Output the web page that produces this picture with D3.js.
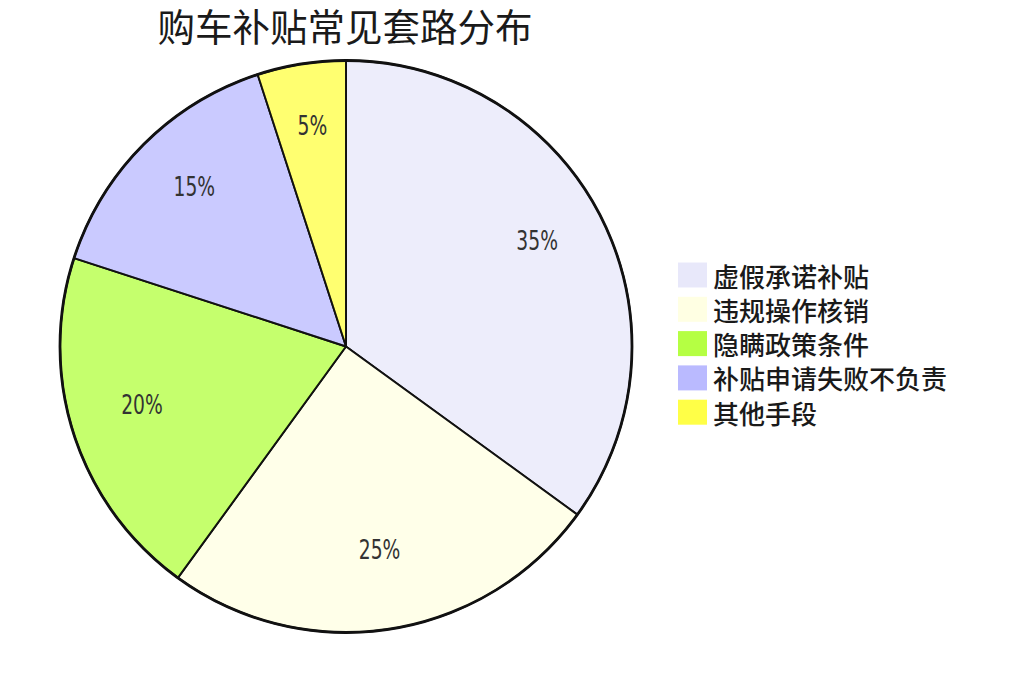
<!DOCTYPE html>
<html>
<head>
<meta charset="utf-8">
<script src="https://cdn.jsdelivr.net/npm/d3@7"></script>
<style>
  body { margin: 0; background: #fff; }
  svg { display: block; }
</style>
</head>
<body>
<svg id="chart" width="1024" height="693"></svg>
<script>
// chart data
const categories = ["虚假承诺补贴", "违规操作核销", "隐瞒政策条件", "补贴申请失败不负责", "其他手段"];
const shares = [35, 25, 20, 15, 5];
const sliceColors = ["#e6e6fa", "#ffffe0", "#adff2f", "#b3b3ff", "#ffff33"];
const chartTitle = "购车补贴常见套路分布";

const width = 1024, height = 693;
const cx = 346, cy = 346.5, radius = 286;

const svg = d3.select("#chart");

// title
svg.append("text")
    .attr("x", 345)
    .attr("y", 41)
    .attr("text-anchor", "middle")
    .style("font-family", "'Noto Sans CJK SC'")
    .style("font-size", "37.5px")
    .style("fill", "#1a1a1a")
    .text(chartTitle);

let color = d3.scaleOrdinal().domain(categories).range(sliceColors);

let pie = d3.pie()
    .sort(null)
    .value(d => d.value);

let data = categories.map((c, i) => ({name: c, value: shares[i]}));
let arcs = pie(data);

let arc = d3.arc().innerRadius(0).outerRadius(radius);
let labelArc = d3.arc().innerRadius(radius * 0.75).outerRadius(radius * 0.75);

let g = svg.append("g").attr("transform", "translate(" + cx + "," + cy + ")");

g.selectAll(".slice")
    .data(arcs)
    .enter()
    .append("path")
    .attr("class", "slice")
    .attr("d", arc)
    .attr("fill", d => color(d.data.name))
    .attr("fill-opacity", 0.7)
    .attr("stroke", "#111")
    .attr("stroke-width", 1.9)
    .attr("stroke-linejoin", "round");

// heavier outer rim
g.append("circle")
    .attr("r", radius)
    .attr("fill", "none")
    .attr("stroke", "#111")
    .attr("stroke-width", 2.8);

// percentage labels, narrow glyphs like the original
g.selectAll(".pct")
    .data(arcs)
    .enter()
    .append("text")
    .attr("class", "pct")
    .attr("transform", d => "translate(" + labelArc.centroid(d) + ") scale(0.8,1)")
    .attr("dy", -8)
    .attr("text-anchor", "middle")
    .attr("dominant-baseline", "central")
    .style("font-family", "'DejaVu Sans Condensed', 'DejaVu Sans'")
    .style("font-size", "26px")
    .style("fill", "#333")
    .text(d => d.data.value + "%");

// legend
let legend = svg.append("g").attr("transform", "translate(678,275)");
let rowH = 34.3;

legend.selectAll(".key")
    .data(categories)
    .enter()
    .append("rect")
    .attr("class", "key")
    .attr("x", 0)
    .attr("y", (d, i) => i * rowH - 12.5)
    .attr("width", 29)
    .attr("height", 25)
    .attr("fill", d => color(d))
    .attr("fill-opacity", 0.9);

legend.selectAll(".key_label")
    .data(categories)
    .enter()
    .append("text")
    .attr("class", "key_label")
    .attr("x", 35)
    .attr("y", (d, i) => i * rowH)
    .attr("dominant-baseline", "central")
    .style("font-family", "'Noto Sans CJK SC'")
    .style("font-size", "26px")
    .style("font-weight", 500)
    .style("fill", "#1a1a1a")
    .text(d => d);
</script>
</body>
</html>
